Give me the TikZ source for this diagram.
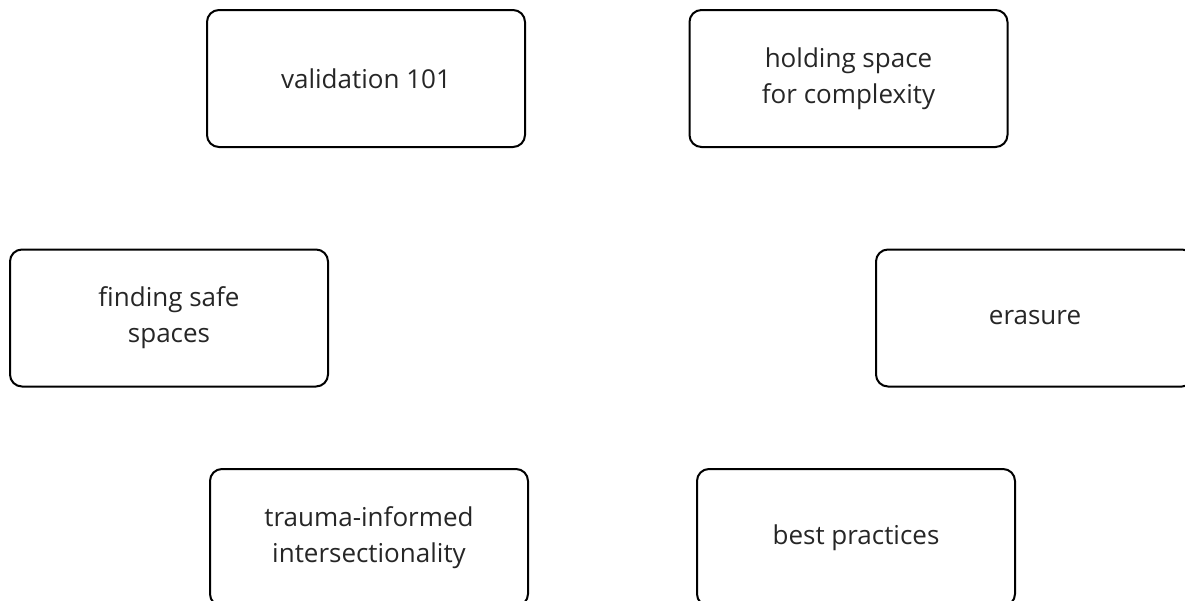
\documentclass[tikz,border=0pt]{standalone}
\usepackage{fontspec}
\setmainfont{Open Sans}

\begin{document}
\begin{tikzpicture}[x=1pt,y=-1pt]
            \useasboundingbox (0,0) rectangle (1185,600);
            \begin{scope}[every node/.style={rectangle,rounded corners=12pt,draw=black,line width=2pt,minimum width=318pt,minimum height=137pt,align=center,font=\fontsize{26}{36}\selectfont,text=black!85}]
                \node (val) at (366,78.5) {validation 101};
                \node (hold) at (848.5,78.5) {holding space\\for complexity};
                \node (safe) at (169,318) {finding safe\\spaces};
                \node (eras) at (1035,318) {erasure};
                \node (trauma) at (369,537.5) {trauma-informed\\intersectionality};
                \node (best) at (856,537.5) {best practices};
            \end{scope}
        \end{tikzpicture}
\end{document}
